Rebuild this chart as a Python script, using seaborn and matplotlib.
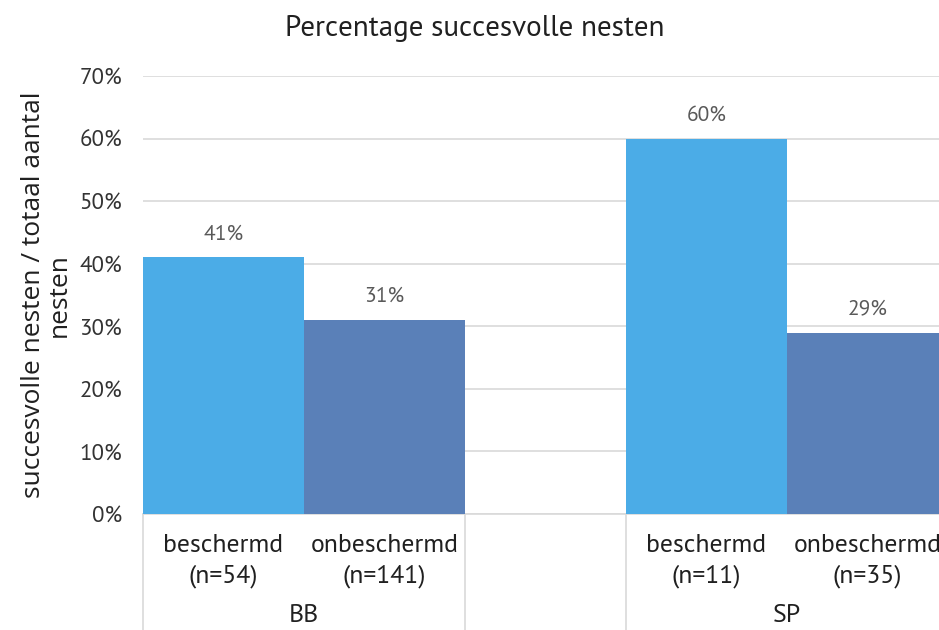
import matplotlib
matplotlib.use("Agg")
import matplotlib.pyplot as plt
import matplotlib.transforms as mtransforms
import seaborn as sns
import pandas as pd

# ---- data ----
groups = ["BB", "BB", "SP", "SP"]
status = ["beschermd", "onbeschermd", "beschermd", "onbeschermd"]
n_values = [54, 141, 11, 35]
pct_values = [0.41, 0.31, 0.60, 0.29]
yticks = [0.0, 0.1, 0.2, 0.3, 0.4, 0.5, 0.6, 0.7]
title = "Percentage succesvolle nesten"
ylabel = "succesvolle nesten / totaal aantal\nnesten"

colors = ["#4BACE7", "#5A80B8"]
text_col = "#333333"
label_col = "#595959"
grid_col = "#D9D9D9"

sns.set_theme(style="white")
plt.rcParams["font.family"] = ["PT Sans", "DejaVu Sans"]

df = pd.DataFrame({"groep": groups, "status": status, "pct": pct_values, "n": n_values})

W, H = 939, 630
fig = plt.figure(figsize=(W / 100, H / 100), dpi=100)
ax_left, ax_right, ax_top, ax_bot = 143, 948, 76, 514
ax = fig.add_axes([ax_left / W, 1 - ax_bot / H, (ax_right - ax_left) / W, (ax_bot - ax_top) / H])

sns.barplot(data=df, x="groep", y="pct", hue="status", palette=colors, width=2 / 3,
            gap=0, saturation=1, legend=False, ax=ax, linewidth=0, zorder=3)

ax.set_xlim(-1 / 3, 4 / 3)
ax.set_ylim(0, 0.7)
ax.set_yticks(yticks)
ax.set_yticklabels([f"{int(round(v * 100))}%" for v in yticks], fontsize=16.5, color=text_col)
ax.tick_params(axis="y", length=0, pad=15)
ax.yaxis.grid(True, color=grid_col, linewidth=1.2, zorder=0)
ax.set_axisbelow(True)
for s in ["left", "right", "top"]:
    ax.spines[s].set_visible(False)
ax.spines["bottom"].set_color(grid_col)
ax.spines["bottom"].set_linewidth(1.2)
ax.set_xticks([])
ax.set_xlabel("")
ax.set_ylabel("")

# data labels
for cont in ax.containers:
    ax.bar_label(cont, labels=[f"{int(round(v * 100))}%" for v in cont.datavalues],
                 padding=10, fontsize=15.5, color=label_col)

# category labels (two levels)
trans = mtransforms.blended_transform_factory(ax.transData, fig.transFigure)
bars = sorted([p for p in ax.patches if p.get_height() > 0], key=lambda p: p.get_x())
rows = df.sort_values(["groep"], kind="stable").reset_index(drop=True)
for p, (_, r) in zip(bars, rows.iterrows()):
    cx = p.get_x() + p.get_width() / 2
    ax.text(cx, 1 - 545 / H, r["status"], transform=trans, ha="center", va="center",
            fontsize=18.5, color="#202020")
    ax.text(cx, 1 - 576 / H, f"(n={r['n']})", transform=trans, ha="center", va="center",
            fontsize=18.5, color="#202020")

for i, g in enumerate(pd.unique(df["groep"])):
    ax.text(i, 1 - 616 / H, g, transform=trans, ha="center", va="center",
            fontsize=18.5, color="#202020")

# separators of the category axis
for xsep in [-1 / 3, 1 / 3, 2 / 3]:
    ax.plot([xsep, xsep], [1 - ax_bot / H, 0], transform=trans, color=grid_col,
            linewidth=1.2, clip_on=False)

fig.text(475 / W, 1 - 28 / H, title, ha="center", va="center", fontsize=21, color="#202020")
fig.text(46 / W, 1 - 295 / H, ylabel, rotation=90, ha="center", va="center",
         fontsize=19, color="#202020", family=["Open Sans", "DejaVu Sans"], linespacing=1.05)

fig.savefig("out.png", dpi=100)
